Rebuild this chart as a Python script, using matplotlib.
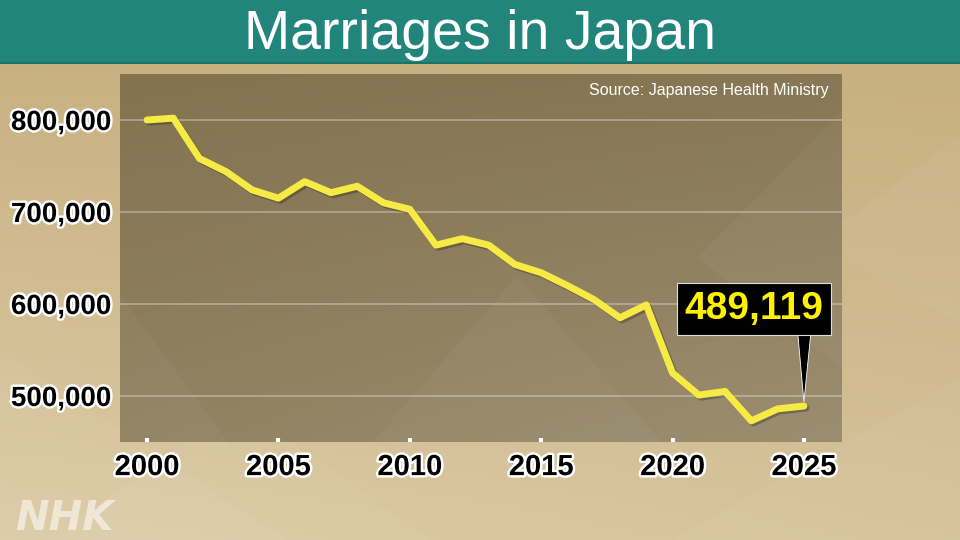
import matplotlib
matplotlib.use("Agg")
import matplotlib.pyplot as plt
import matplotlib.patheffects as pe
from matplotlib.colors import LinearSegmentedColormap
from matplotlib.patches import Polygon, Rectangle
import numpy as np

# marriages per year
years = list(range(2000, 2026))
marriages = [800000, 802000, 758000, 744000, 724000, 715000, 733000, 721000,
             728000, 710000, 703000, 664000, 671000, 664000, 643000, 634000,
             620000, 605000, 585000, 599000, 525000, 501000, 505000, 473000,
             486000, 489119]
y_ticks = [500000, 600000, 700000, 800000]
y_labels = ["500,000", "600,000", "700,000", "800,000"]
x_ticks = [2000, 2005, 2010, 2015, 2020, 2025]
x_labels = ["2000", "2005", "2010", "2015", "2020", "2025"]
title = "Marriages in Japan"
source = "Source: Japanese Health Ministry"
callout = "489,119"

bold = ["Liberation Sans", "DejaVu Sans"]
outline = [pe.withStroke(linewidth=3.5, foreground="white")]

fig = plt.figure(figsize=(9.6, 5.4), dpi=100)

# background: tan gradient, darker at the top, with a few faint facets
bg = fig.add_axes([0, 0, 1, 1])
bg.set_axis_off()
bg.set_xlim(0, 1)
bg.set_ylim(0, 1)
gx, gy = np.meshgrid(np.linspace(0, 1, 200), np.linspace(0, 1, 120))
grad = np.clip(0.7 * (1 - gy) + 0.3 * (1 - gx) * (1 - gy), 0, 1)
bg_cmap = LinearSegmentedColormap.from_list("bg", ["#c5ad7d", "#ddcba6"])
bg.imshow(grad, cmap=bg_cmap, extent=[0, 1, 0, 1], origin="lower",
          aspect="auto", zorder=0)
facets = [
    [(0, 0), (0.3, 0), (0, 0.35)],
    [(0.05, 0), (0.45, 0), (0.25, 0.25)],
    [(0.85, 0.55), (1, 0.75), (1, 0.4)],
    [(0.7, 0), (1, 0), (1, 0.3)],
]
for f in facets:
    bg.add_patch(Polygon(f, closed=True, facecolor="white", alpha=0.04,
                         edgecolor="none", zorder=1))

# title band
bg.add_patch(Rectangle((0, 1 - 62 / 540), 1, 62 / 540, facecolor="#22857c",
                       edgecolor="none", zorder=2))
bg.add_patch(Rectangle((0, 1 - 63.5 / 540), 1, 1.5 / 540,
                       facecolor="#1d7169", edgecolor="none", zorder=2))
fig.text(0.5, 1 - 49 / 540, title, ha="center", va="baseline", color="white",
         fontsize=40, family=["Liberation Sans", "DejaVu Sans"])

# NHK mark
fig.text(15 / 960, 1 - 530 / 540, "NHK", ha="left", va="baseline",
         color="white", alpha=0.55, fontsize=29, fontweight="bold",
         fontstyle="italic", family=["DejaVu Sans"])

# chart
ax = fig.add_axes([120 / 960, 1 - 442 / 540, 722 / 960, 368 / 540])
ax.set_xlim(1998.97, 2026.45)
ax.set_ylim(450000, 850000)

px, py = np.meshgrid(np.linspace(0, 1, 200), np.linspace(0, 1, 120))
pgrad = np.clip(0.55 * (1 - py) + 0.3 * px * (1 - py) + 0.15 * px, 0, 1)
plot_cmap = LinearSegmentedColormap.from_list("plot", ["#84734f", "#9b8e70"])
ax.imshow(pgrad, cmap=plot_cmap, extent=[0, 1, 0, 1], origin="lower",
          aspect="auto", transform=ax.transAxes, zorder=0)
for f in [[(0.35, 0), (0.75, 0), (0.55, 0.45)],
          [(0, 0), (0.15, 0), (0, 0.4)],
          [(0.8, 0.5), (1, 0.9), (1, 0.2)]]:
    ax.add_patch(Polygon(f, closed=True, transform=ax.transAxes,
                         facecolor="white", alpha=0.035, edgecolor="none",
                         zorder=0.5))

for s in ax.spines.values():
    s.set_visible(False)

ax.set_yticks(y_ticks)
ax.set_yticklabels(y_labels)
ax.set_xticks(x_ticks)
ax.set_xticklabels(x_labels)
ax.tick_params(axis="y", length=0, pad=6)
ax.tick_params(axis="x", direction="in", length=3, width=3, color="white",
               pad=8)
for lab in ax.get_yticklabels():
    lab.set_fontsize(20)
    lab.set_fontweight("bold")
    lab.set_family(bold)
    lab.set_path_effects(outline)
for lab in ax.get_xticklabels():
    lab.set_fontsize(21)
    lab.set_fontweight("bold")
    lab.set_family(bold)
    lab.set_path_effects(outline)

ax.grid(axis="y", color="white", alpha=0.35, linewidth=1.2)
ax.grid(axis="x", visible=False)
ax.set_axisbelow(True)

ax.plot(years, marriages, color="#f6ea45", linewidth=5,
        solid_joinstyle="round", solid_capstyle="round", zorder=3,
        path_effects=[pe.SimpleLineShadow(offset=(1.5, -1.5), alpha=0.25),
                      pe.Normal()])

ax.text(0.981, 0.943, source, transform=ax.transAxes, ha="right",
        va="baseline", color="white", fontsize=11.5,
        family=["Liberation Sans", "DejaVu Sans"])

# callout box for the latest value, with a thin pointer down to it
last_x, last_y = years[-1], marriages[-1]
ax.add_patch(Polygon([(last_x - 0.23, last_y + 78000),
                      (last_x + 0.26, last_y + 78000),
                      (last_x, last_y + 4500)],
                     closed=True, facecolor="black", edgecolor="white",
                     linewidth=0.6, zorder=4))
ax.text(last_x - 1.9, last_y + 105500, callout, ha="center", va="center",
        color="#fff200", fontsize=28, fontweight="bold", family=bold,
        zorder=5,
        bbox=dict(boxstyle="square,pad=0.2", facecolor="black",
                  edgecolor="#dddddd", linewidth=0.8))

fig.savefig("out.png", dpi=100)
